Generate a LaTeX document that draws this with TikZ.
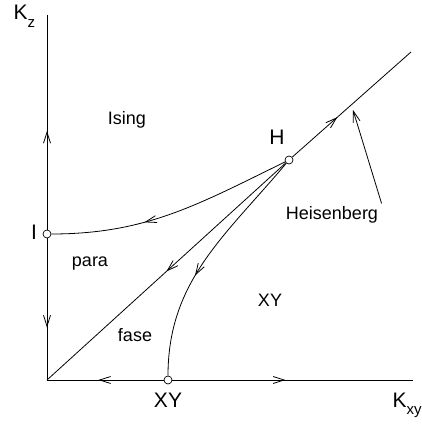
\documentclass[tikz,border=0pt]{standalone}
\usepackage{fontspec}
\setmainfont{Liberation Sans}
\usetikzlibrary{arrows.meta, decorations.markings}

\begin{document}
\begin{tikzpicture}[
        x=1pt, y=1pt,
        punto/.style={draw, circle, fill=white, minimum size=8pt, inner sep=0pt, line width=0.7pt},
        grande/.style={anchor=base, font=\fontsize{21}{25}\selectfont},
        chico/.style={anchor=base, font=\fontsize{18}{22}\selectfont},
        linea/.style={line width=0.8pt},
        flechamedia/.style={linea, postaction={decorate}, decoration={markings, mark=at position #1 with {\arrow{Straight Barb[length=11pt, width=7pt]}}}},
        flecha/.style={linea, -{Straight Barb[length=11pt, width=7pt]}}
    ]
        \useasboundingbox (0,0) rectangle (422,429);
        % ejes y puntos fijos
        \coordinate (origen) at (47,49);
        \coordinate (ejez) at (47,414);
        \coordinate (ejex) at (413,49);
        \coordinate (diagfin) at (411,377);
        \coordinate (hpunta) at (353,319);
        \node[punto] (I) at (47,195) {};
        \node[punto] (XY) at (168,49) {};
        \node[punto] (H) at (289,269) {};
        % etiquetas
        \node[chico] (ising) at (127,304) {Ising};
        \node[chico] (para) at (90,162) {para};
        \node[chico] (fase) at (135,87) {fase};
        \node[chico] (xyfase) at (270,122) {XY};
        \node[chico] (heis) at (332,209) {Heisenberg};
        \node[grande] (lh) at (277,284) {H};
        \node[grande] (li) at (34,189) {I};
        \node[grande] (lxy) at (168,21) {XY};
        \node[grande, anchor=base west] (kz) at (10,409) {K\raisebox{-8pt}{\fontsize{15}{17}\selectfont z}};
        \node[grande, anchor=base west] (kxy) at (389,21) {K\raisebox{-7pt}{\fontsize{15}{17}\selectfont xy}};
        % flujos
        \draw[flechamedia=0.46] (I) -- (ejez);
        \draw[flechamedia=0.63] (I) -- (origen);
        \draw[flechamedia=0.56] (XY) -- (origen);
        \draw[flechamedia=0.47] (XY) -- (ejex);
        \draw[flechamedia=0.5] (H) -- (origen);
        \draw[flechamedia=0.38] (H) -- (diagfin);
        \draw[flechamedia=0.62] (H) to[out=206, in=0] (I);
        \draw[flechamedia=0.58] (H) to[out=230, in=90] (XY);
        \draw[flecha] (heis.north east) -- (hpunta);
    \end{tikzpicture}
\end{document}
